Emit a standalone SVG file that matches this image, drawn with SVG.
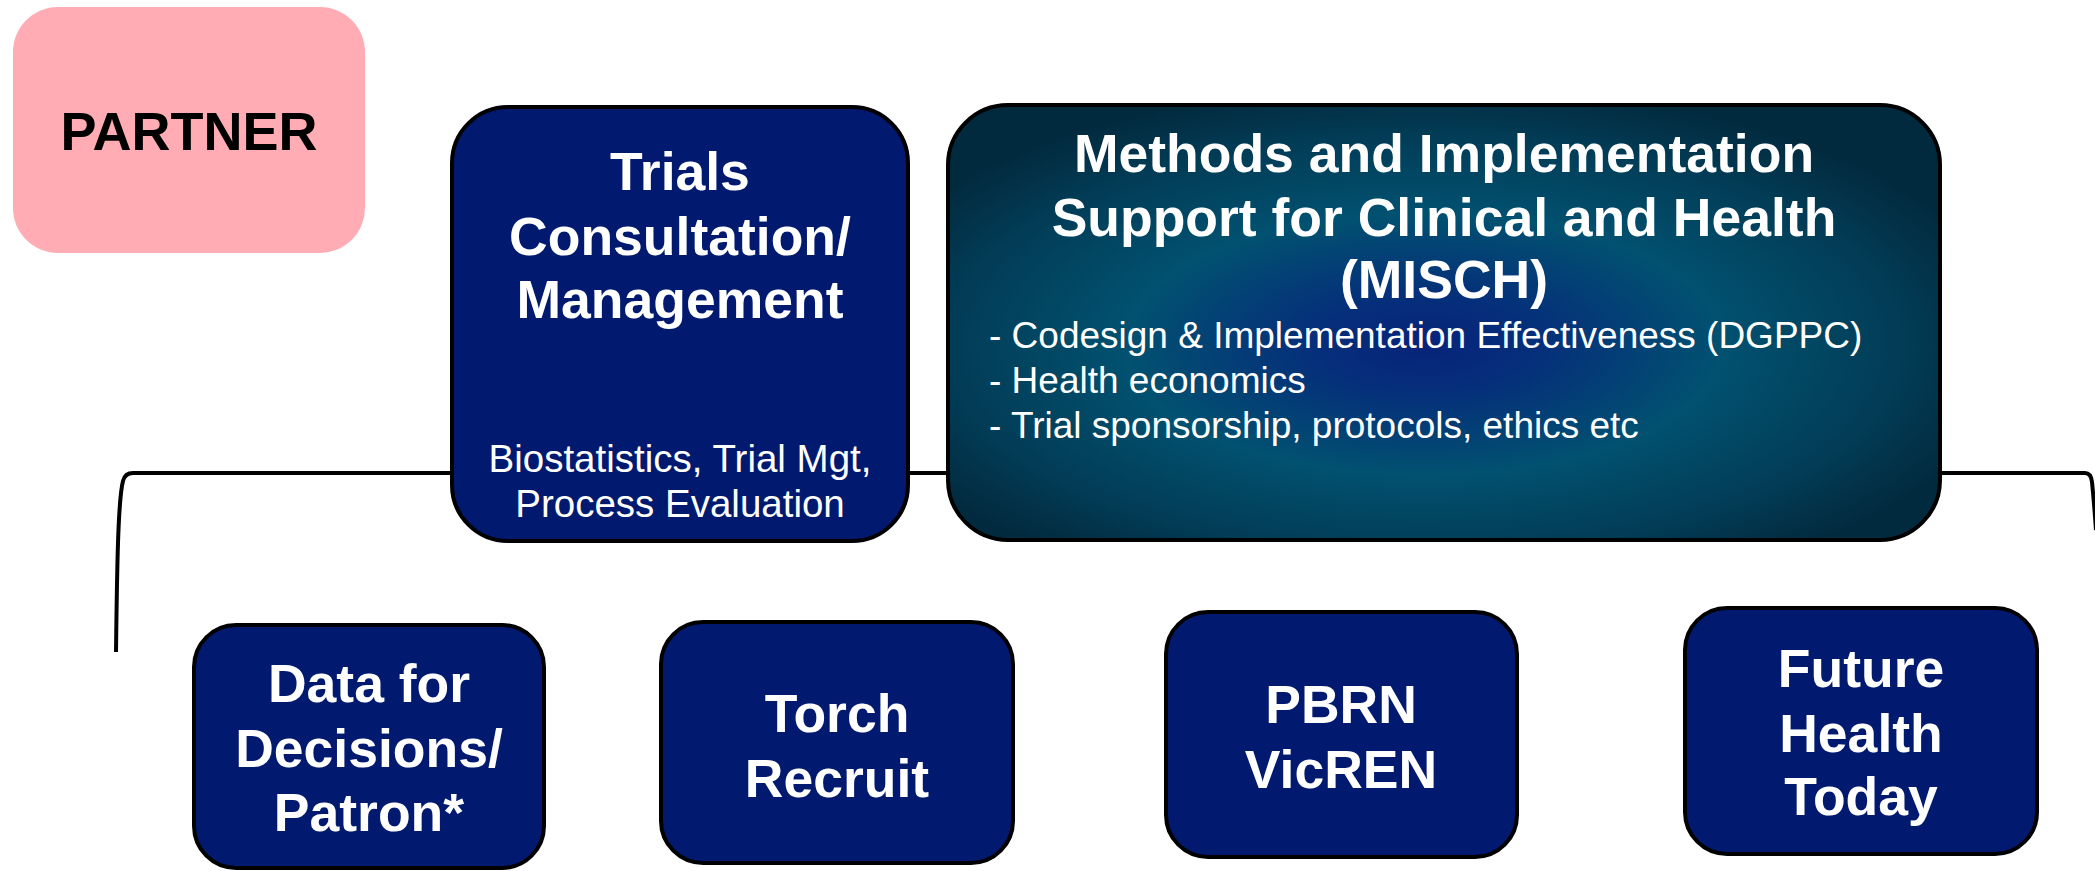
<svg xmlns="http://www.w3.org/2000/svg" width="2095" height="871" viewBox="0 0 2095 871">
<defs>
<radialGradient id="mischGrad" cx="0.48" cy="0.55" r="0.6" fx="0.48" fy="0.55">
<stop offset="0" stop-color="#07237A"/>
<stop offset="0.2" stop-color="#05307A"/>
<stop offset="0.5" stop-color="#015170"/>
<stop offset="0.8" stop-color="#023C56"/>
<stop offset="1" stop-color="#022A3E"/>
</radialGradient>
<style>
.box{fill:#011A70;stroke:#000;stroke-width:4;}
.title{font-family:"Liberation Sans",Arial,sans-serif;font-weight:bold;font-size:53.5px;fill:#fff;text-anchor:middle;}
.sub{font-family:"Liberation Sans",Arial,sans-serif;font-size:37px;fill:#fff;}
.sub2{font-family:"Liberation Sans",Arial,sans-serif;font-size:38.5px;fill:#fff;text-anchor:middle;}
.conn{fill:none;stroke:#000;stroke-width:4;}
</style>
</defs>
<rect width="2095" height="871" fill="#fff"/>
<g id="connectors">
<path class="conn" d="M 116 652 C 117 570 118 500 123 481 Q 125 473 133 473 L 2085 473 Q 2091 473 2092 482 C 2093 492 2094 502 2096 530"/>
</g>
<g id="partner">
<rect x="13" y="7" width="352" height="246" rx="45" fill="#FFACB4"/>
<text x="189" y="150" font-family="Liberation Sans,Arial,sans-serif" font-weight="bold" font-size="54" fill="#000" text-anchor="middle">PARTNER</text>
</g>
<g id="trials">
<rect class="box" x="452" y="107" width="456" height="434" rx="56"/>
<text class="title" x="680" y="190">Trials</text>
<text class="title" x="680" y="255">Consultation/</text>
<text class="title" x="680" y="318">Management</text>
<text class="sub2" x="680" y="472">Biostatistics, Trial Mgt,</text>
<text class="sub2" x="680" y="517">Process Evaluation</text>
</g>
<g id="misch">
<rect x="948" y="105" width="992" height="435" rx="60" fill="url(#mischGrad)" stroke="#000" stroke-width="4"/>
<text class="title" x="1444" y="172">Methods and Implementation</text>
<text class="title" x="1444" y="236">Support for Clinical and Health</text>
<text class="title" x="1444" y="298">(MISCH)</text>
<text class="sub" x="989" y="348">- Codesign &amp; Implementation Effectiveness (DGPPC)</text>
<text class="sub" x="989" y="393">- Health economics</text>
<text class="sub" x="989" y="438">- Trial sponsorship, protocols, ethics etc</text>
</g>
<g id="data">
<rect class="box" x="194" y="625" width="350" height="243" rx="42"/>
<text class="title" x="369" y="702">Data for</text>
<text class="title" x="369" y="767">Decisions/</text>
<text class="title" x="369" y="831">Patron*</text>
</g>
<g id="torch">
<rect class="box" x="661" y="622" width="352" height="241" rx="42"/>
<text class="title" x="837" y="732">Torch</text>
<text class="title" x="837" y="797">Recruit</text>
</g>
<g id="pbrn">
<rect class="box" x="1166" y="612" width="351" height="245" rx="42"/>
<text class="title" x="1341" y="723">PBRN</text>
<text class="title" x="1341" y="788">VicREN</text>
</g>
<g id="future">
<rect class="box" x="1685" y="608" width="352" height="246" rx="42"/>
<text class="title" x="1861" y="687">Future</text>
<text class="title" x="1861" y="752">Health</text>
<text class="title" x="1861" y="815">Today</text>
</g>
</svg>
